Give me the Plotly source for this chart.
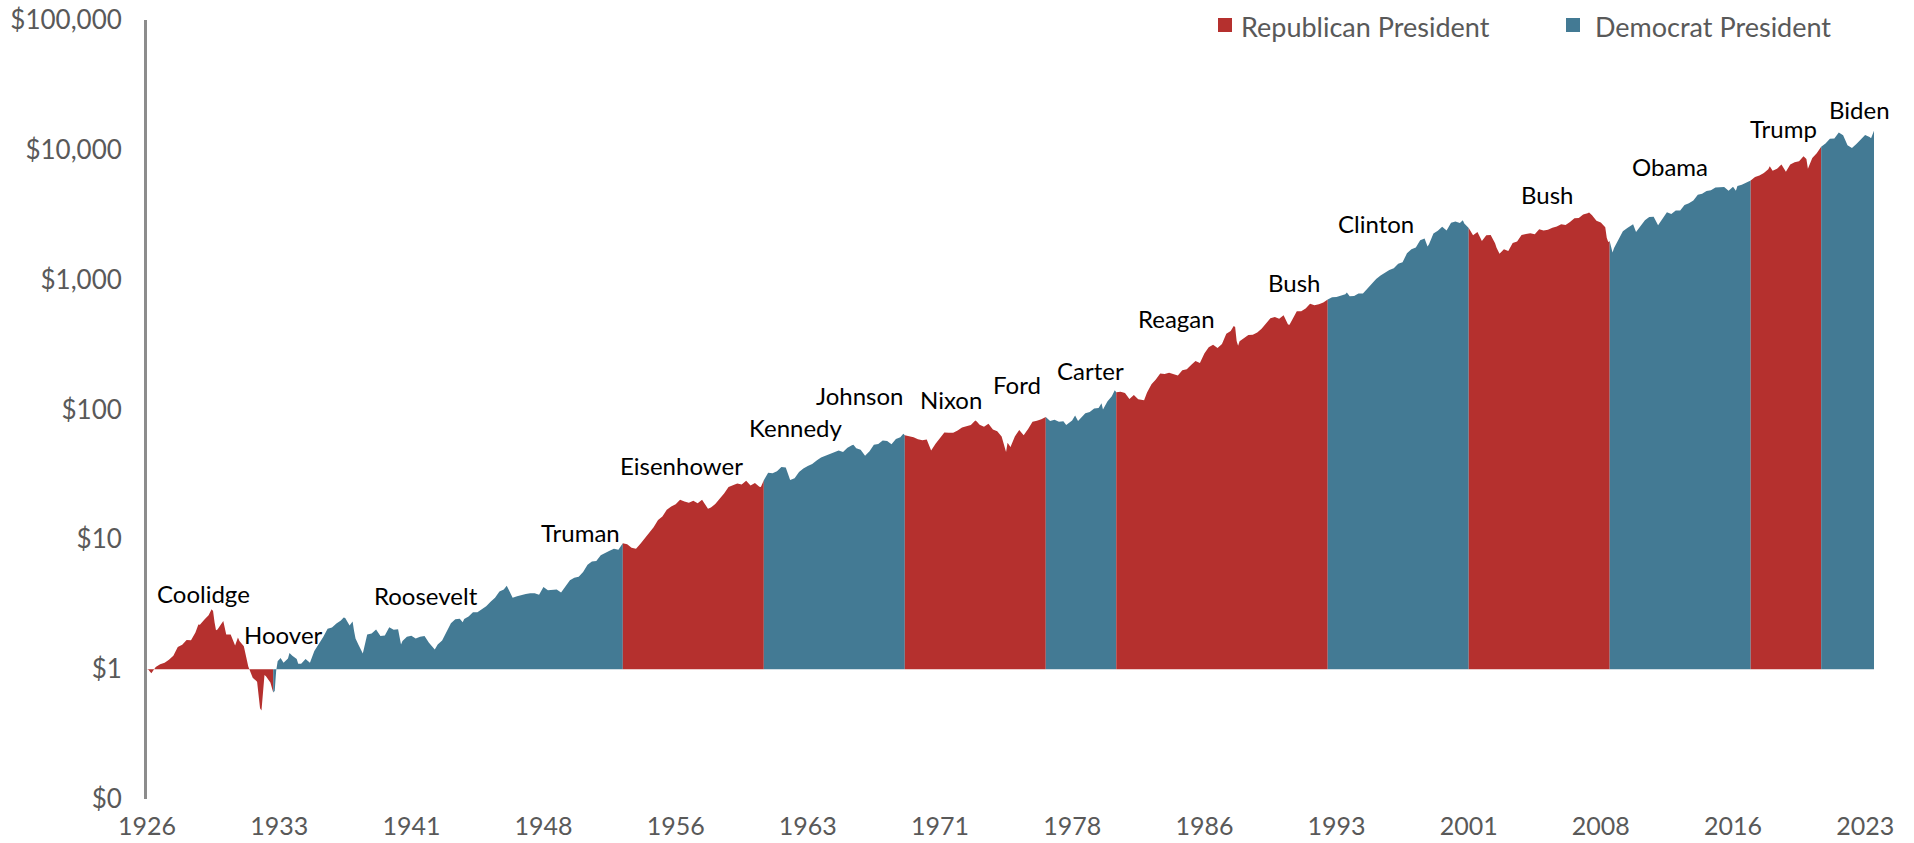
import pandas as pd
import plotly.graph_objects as go

# ---------------- data: growth of $1 (month, value) ----------------
d1920s = ["1925-12", "1926-01", "1926-02", "1926-03", "1926-06", "1926-09", "1926-12",
          "1927-03", "1927-06", "1927-09", "1927-12", "1928-03", "1928-06", "1928-09",
          "1928-11", "1928-12", "1929-03", "1929-06", "1929-08", "1929-09", "1929-10",
          "1929-11", "1929-12"]
v1920s = [1.00, 0.99, 0.96, 0.93, 1.04, 1.09, 1.12,
          1.18, 1.27, 1.48, 1.54, 1.68, 1.67, 1.92,
          2.21, 2.20, 2.40, 2.60, 2.89, 2.80, 2.30,
          1.99, 2.02]

d1930s = ["1930-03", "1930-04", "1930-06", "1930-09", "1930-12",
          "1931-02", "1931-03", "1931-06", "1931-09", "1931-12",
          "1932-03", "1932-05", "1932-06", "1932-08", "1932-09", "1932-12",
          "1933-02", "1933-03", "1933-04", "1933-05", "1933-07", "1933-09", "1933-12",
          "1934-01", "1934-03", "1934-06", "1934-07", "1934-09", "1934-12",
          "1935-03", "1935-06", "1935-09", "1935-12",
          "1936-03", "1936-06", "1936-09", "1936-12",
          "1937-02", "1937-03", "1937-06", "1937-08", "1937-09", "1937-10", "1937-12",
          "1938-03", "1938-06", "1938-09", "1938-12",
          "1939-03", "1939-06", "1939-09", "1939-12"]
v1930s = [2.25, 2.35, 1.85, 1.85, 1.52,
          1.75, 1.65, 1.50, 1.05, 0.86,
          0.80, 0.50, 0.48, 0.90, 0.88, 0.79,
          0.66, 0.68, 0.97, 1.15, 1.22, 1.12, 1.21,
          1.33, 1.27, 1.20, 1.10, 1.10, 1.20,
          1.12, 1.38, 1.56, 1.77,
          2.05, 2.09, 2.25, 2.37,
          2.50, 2.48, 2.17, 2.33, 1.98, 1.72, 1.54,
          1.32, 1.85, 1.88, 2.02,
          1.80, 1.82, 2.10, 2.01]

d1940s = ["1940-03", "1940-05", "1940-06", "1940-09", "1940-12",
          "1941-03", "1941-06", "1941-09", "1941-12",
          "1942-04", "1942-06", "1942-09", "1942-12",
          "1943-03", "1943-06", "1943-09", "1943-11", "1943-12",
          "1944-03", "1944-06", "1944-09", "1944-12",
          "1945-03", "1945-06", "1945-09", "1945-12",
          "1946-03", "1946-05", "1946-06", "1946-09", "1946-12",
          "1947-03", "1947-06", "1947-09", "1947-12",
          "1948-03", "1948-06", "1948-09", "1948-12",
          "1949-03", "1949-06", "1949-09", "1949-12"]
v1940s = [2.03, 1.55, 1.65, 1.78, 1.81,
          1.72, 1.78, 1.80, 1.60,
          1.42, 1.55, 1.66, 1.93,
          2.26, 2.42, 2.45, 2.30, 2.43,
          2.54, 2.75, 2.75, 2.91,
          3.05, 3.30, 3.55, 3.97,
          4.10, 4.40, 4.15, 3.55, 3.65,
          3.75, 3.80, 3.85, 3.85,
          3.75, 4.30, 4.05, 4.07,
          4.10, 3.90, 4.30, 4.83]

d1950s = ["1950-03", "1950-06", "1950-09", "1950-12",
          "1951-03", "1951-06", "1951-09", "1951-12",
          "1952-03", "1952-06", "1952-09", "1952-12",
          "1953-03", "1953-06", "1953-09", "1953-12",
          "1954-03", "1954-06", "1954-09", "1954-12",
          "1955-03", "1955-06", "1955-09", "1955-12",
          "1956-03", "1956-06", "1956-09", "1956-12",
          "1957-03", "1957-06", "1957-09", "1957-10", "1957-12",
          "1958-03", "1958-06", "1958-09", "1958-12",
          "1959-03", "1959-06", "1959-09", "1959-12"]
v1950s = [5.05, 5.15, 5.60, 6.36,
          6.75, 6.80, 7.55, 7.89,
          8.15, 8.45, 8.30, 9.34,
          9.15, 8.60, 8.45, 9.24,
          10.2, 11.2, 12.4, 14.1,
          15.0, 16.9, 17.9, 18.6,
          20.2, 19.6, 19.1, 19.8,
          19.0, 20.2, 18.1, 17.2, 17.6,
          18.7, 20.5, 22.5, 25.3,
          26.0, 26.9, 26.4, 28.3]

d1960s = ["1960-03", "1960-06", "1960-09", "1960-10", "1960-12",
          "1961-03", "1961-06", "1961-09", "1961-12",
          "1962-03", "1962-06", "1962-09", "1962-12",
          "1963-03", "1963-06", "1963-09", "1963-12",
          "1964-03", "1964-06", "1964-09", "1964-12",
          "1965-03", "1965-06", "1965-09", "1965-12",
          "1966-01", "1966-03", "1966-06", "1966-09", "1966-12",
          "1967-03", "1967-06", "1967-09", "1967-12",
          "1968-03", "1968-06", "1968-09", "1968-11", "1968-12",
          "1969-03", "1969-06", "1969-09", "1969-12"]
v1960s = [26.0, 27.2, 25.4, 25.3, 28.5,
          32.5, 32.3, 33.5, 36.1,
          35.8, 28.6, 29.5, 33.0,
          35.1, 36.7, 38.0, 40.5,
          42.6, 44.0, 45.5, 47.1,
          48.4, 47.0, 50.7, 53.0,
          53.4, 50.4, 48.9, 44.0, 47.7,
          53.5, 54.2, 57.7, 57.1,
          54.0, 59.3, 61.0, 65.0, 63.4,
          62.2, 61.0, 59.0, 58.0]

d1970s = ["1970-03", "1970-06", "1970-09", "1970-12",
          "1971-03", "1971-06", "1971-09", "1971-12",
          "1972-03", "1972-06", "1972-09", "1972-12",
          "1973-01", "1973-03", "1973-06", "1973-09", "1973-12",
          "1974-03", "1974-06", "1974-09", "1974-10", "1974-12",
          "1975-03", "1975-06", "1975-09", "1975-12",
          "1976-03", "1976-06", "1976-09", "1976-12",
          "1977-03", "1977-06", "1977-09", "1977-12",
          "1978-02", "1978-06", "1978-08", "1978-10", "1978-12",
          "1979-03", "1979-06", "1979-09", "1979-12"]
v1970s = [58.8, 48.3, 54.5, 60.4,
          66.5, 66.3, 66.2, 69.0,
          72.6, 74.2, 76.0, 82.1,
          81.0, 76.2, 73.8, 77.5, 70.1,
          67.9, 62.0, 47.0, 55.5, 51.5,
          62.0, 69.5, 63.2, 70.7,
          80.4, 82.0, 84.0, 87.5,
          81.5, 83.2, 80.6, 81.2,
          76.0, 82.4, 90.0, 81.5, 86.6,
          93.4, 95.5, 102.0, 102.5]

d1980s = ["1980-02", "1980-03", "1980-06", "1980-09", "1980-11", "1980-12",
          "1981-03", "1981-06", "1981-09", "1981-12",
          "1982-03", "1982-07", "1982-09", "1982-12",
          "1983-03", "1983-06", "1983-09", "1983-12",
          "1984-03", "1984-06", "1984-09", "1984-12",
          "1985-03", "1985-06", "1985-09", "1985-12",
          "1986-03", "1986-06", "1986-09", "1986-12",
          "1987-03", "1987-06", "1987-08", "1987-09", "1987-10", "1987-11", "1987-12",
          "1988-03", "1988-06", "1988-09", "1988-12",
          "1989-03", "1989-06", "1989-09", "1989-12"]
v1980s = [111.5, 100.0, 115.0, 126.5, 141.0, 135.7,
          136.8, 134.0, 120.5, 129.1,
          120.2, 118.0, 135.4, 156.7,
          170.0, 189.0, 187.5, 192.0,
          186.0, 182.5, 200.5, 204.0,
          220.0, 236.0, 228.0, 269.6,
          302.0, 315.5, 298.0, 319.4,
          384.0, 403.0, 440.0, 431.0, 337.0, 310.0, 336.0,
          355.0, 375.5, 376.0, 392.6,
          419.0, 456.0, 504.0, 516.0]

d1990s = ["1990-03", "1990-06", "1990-09", "1990-10", "1990-12",
          "1991-03", "1991-06", "1991-09", "1991-12",
          "1992-03", "1992-06", "1992-09", "1992-12",
          "1993-03", "1993-06", "1993-09", "1993-12",
          "1994-01", "1994-03", "1994-06", "1994-09", "1994-12",
          "1995-03", "1995-06", "1995-09", "1995-12",
          "1996-03", "1996-06", "1996-09", "1996-12",
          "1997-03", "1997-06", "1997-09", "1997-12",
          "1998-03", "1998-06", "1998-08", "1998-09", "1998-12",
          "1999-03", "1999-06", "1999-09", "1999-12"]
v1990s = [500.0, 531.0, 452.0, 450.0, 500.0,
          571.0, 570.0, 600.0, 652.5,
          636.0, 648.0, 668.0, 702.5,
          733.0, 736.0, 755.0, 772.7,
          798.0, 744.0, 747.0, 783.0, 783.0,
          858.0, 940.0, 1014.0, 1076.0,
          1134.0, 1185.0, 1222.0, 1324.0,
          1360.0, 1596.0, 1715.0, 1766.0,
          2012.0, 2078.0, 1800.0, 1872.0, 2270.0,
          2383.0, 2551.0, 2392.0, 2748.0]

d2000s = ["2000-03", "2000-06", "2000-08", "2000-09", "2000-12",
          "2001-03", "2001-06", "2001-09", "2001-12",
          "2002-03", "2002-06", "2002-07", "2002-09", "2002-12",
          "2003-03", "2003-06", "2003-09", "2003-12",
          "2004-03", "2004-06", "2004-09", "2004-12",
          "2005-03", "2005-06", "2005-09", "2005-12",
          "2006-03", "2006-06", "2006-09", "2006-12",
          "2007-03", "2007-06", "2007-09", "2007-10", "2007-12",
          "2008-03", "2008-06", "2008-09", "2008-10", "2008-11", "2008-12",
          "2009-02", "2009-03", "2009-06", "2009-09", "2009-12"]
v2000s = [2811.0, 2736.0, 2870.0, 2709.0, 2498.0,
          2202.0, 2331.0, 1989.0, 2201.0,
          2207.0, 1911.0, 1762.0, 1582.0, 1715.0,
          1660.0, 1916.0, 1966.0, 2206.0,
          2244.0, 2282.0, 2240.0, 2446.0,
          2394.0, 2427.0, 2514.0, 2566.0,
          2674.0, 2636.0, 2785.0, 2972.0,
          2991.0, 3178.0, 3243.0, 3294.0, 3135.0,
          2838.0, 2761.0, 2530.0, 2105.0, 1954.0, 1975.0,
          1616.0, 1757.0, 2037.0, 2355.0, 2498.0]

d2010s = ["2010-03", "2010-04", "2010-06", "2010-09", "2010-12",
          "2011-03", "2011-06", "2011-09", "2011-12",
          "2012-03", "2012-06", "2012-09", "2012-12",
          "2013-03", "2013-06", "2013-09", "2013-12",
          "2014-03", "2014-06", "2014-09", "2014-12",
          "2015-03", "2015-06", "2015-09", "2015-12",
          "2016-02", "2016-03", "2016-06", "2016-09", "2016-12",
          "2017-03", "2017-06", "2017-09", "2017-12",
          "2018-01", "2018-03", "2018-06", "2018-09", "2018-12",
          "2019-03", "2019-06", "2019-09", "2019-12"]
v2010s = [2631.0, 2670.0, 2329.0, 2593.0, 2874.0,
          3044.0, 3052.0, 2620.0, 2934.0,
          3303.0, 3210.0, 3413.0, 3404.0,
          3762.0, 3872.0, 4075.0, 4506.0,
          4586.0, 4826.0, 4880.0, 5122.0,
          5170.0, 5184.0, 4850.0, 5193.0,
          4850.0, 5262.0, 5391.0, 5598.0, 5814.0,
          6166.0, 6357.0, 6642.0, 7083.0,
          7489.0, 6916.0, 7153.0, 7705.0, 6773.0,
          7697.0, 8029.0, 8165.0, 8906.0]

d2020s = ["2020-02", "2020-03", "2020-06", "2020-09", "2020-12",
          "2021-03", "2021-06", "2021-09", "2021-12",
          "2022-03", "2022-06", "2022-09", "2022-12",
          "2023-03", "2023-06", "2023-09", "2023-10", "2023-12"]
v2020s = [8495.0, 7165.0, 8638.0, 9409.0, 10545.0,
          11195.0, 12152.0, 12221.0, 13572.0,
          12941.0, 10856.0, 10326.0, 11114.0,
          11947.0, 12991.0, 12566.0, 12293.0, 14036.0]

# presidents: name, party, inauguration
presidents = [
    ("Coolidge", "R", "1923-08-02"), ("Hoover", "R", "1929-03-04"),
    ("Roosevelt", "D", "1933-03-04"), ("Truman", "D", "1945-04-12"),
    ("Eisenhower", "R", "1953-01-20"), ("Kennedy", "D", "1961-01-20"),
    ("Johnson", "D", "1963-11-22"), ("Nixon", "R", "1969-01-20"),
    ("Ford", "R", "1974-08-09"), ("Carter", "D", "1977-01-20"),
    ("Reagan", "R", "1981-01-20"), ("Bush", "R", "1989-01-20"),
    ("Clinton", "D", "1993-01-20"), ("Bush", "R", "2001-01-20"),
    ("Obama", "D", "2009-01-20"), ("Trump", "R", "2017-01-20"),
    ("Biden", "D", "2021-01-20"),
]

y_tick_vals = [0.1, 1, 10, 100, 1000, 10000, 100000]
y_tick_text = ["$0", "$1", "$10", "$100", "$1,000", "$10,000", "$100,000"]
x_tick_text = ["1926", "1933", "1941", "1948", "1956", "1963", "1971",
               "1978", "1986", "1993", "2001", "2008", "2016", "2023"]
legend_names = {"R": "Republican President", "D": "Democrat President"}

# ---------------- styles / layout ----------------
W, H = 1914, 843
L, R, T, B = 147, 40, 20, 44
PW, PH = W - L - R, H - T - B
COL = {"R": "#B5302E", "D": "#437A94"}
FONT = "Lato"
TICK_COLOR = "#595959"


def px(x):
    return (x - L) / PW


def py(y):
    return (H - B - y) / PH


months = d1920s + d1930s + d1940s + d1950s + d1960s + d1970s + d1980s + d1990s + d2000s + d2010s + d2020s
values = v1920s + v1930s + v1940s + v1950s + v1960s + v1970s + v1980s + v1990s + v2000s + v2010s + v2020s
assert len(months) == len(values)
dates = [pd.Timestamp(m) + pd.offsets.MonthEnd(0) for m in months]

# merge consecutive same-party presidents into colour segments
segs = []
for name, party, start in presidents:
    if segs and segs[-1][0] == party:
        continue
    segs.append([party, pd.Timestamp(start)])


def last_idx_before(ts):
    idx = 0
    for i, d in enumerate(dates):
        if d <= ts:
            idx = i
    return idx


fig = go.Figure()
for k, (party, start) in enumerate(segs):
    i0 = last_idx_before(start) if k > 0 else 0
    i1 = last_idx_before(segs[k + 1][1]) if k + 1 < len(segs) else len(dates) - 1
    xs = dates[i0:i1 + 1]
    ys = values[i0:i1 + 1]
    fig.add_trace(go.Scatter(
        x=xs + xs[::-1], y=ys + [1.0] * len(ys),
        fill="toself", fillcolor=COL[party], mode="lines",
        line=dict(width=0, color=COL[party]), hoverinfo="skip", showlegend=False))

tick_dates = [pd.Timestamp("1926-01-01") + pd.DateOffset(months=90 * i) for i in range(len(x_tick_text))]

fig.update_layout(
    width=W, height=H, margin=dict(l=L, r=R, t=T, b=B, pad=0),
    paper_bgcolor="white", plot_bgcolor="white", showlegend=False,
    font=dict(family=FONT, size=24, color="black"),
    xaxis=dict(type="date", range=[dates[0], dates[-1]], showgrid=False, zeroline=False,
               automargin=False,
               showline=False, tickmode="array", tickvals=tick_dates, ticktext=x_tick_text,
               ticks="outside", ticklen=5, tickcolor="rgba(0,0,0,0)",
               tickfont=dict(family=FONT, size=25, color=TICK_COLOR)),
    yaxis=dict(type="log", range=[-1, 5], showgrid=False, zeroline=False,
               automargin=False,
               showline=True, linecolor="#8c8c8c", linewidth=3,
               tickmode="array", tickvals=y_tick_vals, ticktext=y_tick_text,
               ticks="outside", ticklen=17, tickcolor="rgba(0,0,0,0)",
               tickfont=dict(family=FONT, size=26, color=TICK_COLOR)),
)

# $1 baseline
fig.add_shape(type="line", xref="paper", yref="y", x0=0, x1=1, y0=0, y1=0,
              line=dict(color="#d9d9d9", width=3), layer="above")

# president labels (pixel centres)
label_pos = [(203, 593), (283, 634), (426, 595), (580, 533), (681, 465), (796, 428),
             (860, 395), (951, 399), (1017, 384), (1090, 370), (1176, 319), (1294, 283),
             (1376, 224), (1547, 195), (1670, 166), (1783, 129), (1859, 110)]
for (name, party, start), (lx, ly) in zip(presidents, label_pos):
    fig.add_annotation(text=name, xref="paper", yref="paper", x=px(lx), y=py(ly),
                       xanchor="center", yanchor="middle", showarrow=False,
                       font=dict(family=FONT, size=24, color="black"))

# legend
legend_items = [("R", 1218, 1239), ("D", 1566, 1593)]
for party, sq_x, tx in legend_items:
    fig.add_shape(type="rect", xref="paper", yref="paper",
                  x0=px(sq_x), x1=px(sq_x + 14), y0=py(32), y1=py(18),
                  fillcolor=COL[party], line=dict(width=0))
    fig.add_annotation(text=legend_names[party], xref="paper", yref="paper",
                       x=px(tx), y=py(26), xanchor="left", yanchor="middle",
                       showarrow=False, font=dict(family=FONT, size=27, color=TICK_COLOR))

fig.write_html("out.html", config={"displayModeBar": False},
               post_script="document.body.style.margin='0';document.body.style.overflow='hidden';")
